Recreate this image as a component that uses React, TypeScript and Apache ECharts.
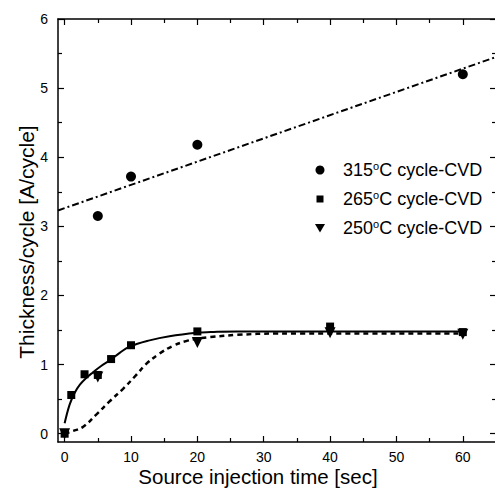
import React, { useEffect, useRef } from 'react';
import * as echarts from 'echarts';

// Axis ticks
const xMajorTicks = [0, 10, 20, 30, 40, 50, 60];
const xMinorTicks = [5, 15, 25, 35, 45, 55];
const yMajorTicks = [0, 1, 2, 3, 4, 5, 6];
const yMinorTicks = [0.5, 1.5, 2.5, 3.5, 4.5, 5.5];

// Measured points [time sec, thickness/cycle]
const points315 = [[5, 3.15], [10, 3.72], [20, 4.18], [60, 5.2]];
const points265 = [[0, 0], [1, 0.56], [3, 0.86], [5, 0.85], [7, 1.08], [10, 1.28], [20, 1.48], [40, 1.55], [60, 1.47]];
const points250 = [[0, 0], [5, 0.82], [20, 1.32], [40, 1.46], [60, 1.44]];

// Fitted curves
const fit315 = [[-1, 3.23], [65, 5.45]];
const fit265 = [[0, 0.15], [0.75, 0.42], [1.5, 0.59], [2.3, 0.71], [3.3, 0.81], [4.3, 0.89], [5.5, 0.98], [6.8, 1.06], [8.3, 1.17], [9.8, 1.26], [12.8, 1.35], [15.8, 1.41], [19.9, 1.46], [22, 1.47], [26, 1.48], [35, 1.48], [60, 1.48]];
const fit250 = [[0, 0], [1.3, 0.04], [2.8, 0.1], [4.8, 0.28], [6.8, 0.47], [8.8, 0.65], [10.8, 0.85], [12.3, 1.01], [14.3, 1.16], [16.3, 1.27], [18.3, 1.34], [20.4, 1.38], [22, 1.4], [26, 1.43], [32, 1.45], [60, 1.45]];

const legendNames = ['315oC cycle-CVD', '265oC cycle-CVD', '250oC cycle-CVD'];
const legendRich: Record<string, string> = {
  '315oC cycle-CVD': '{n|315}{s|o}{n|C cycle-CVD}',
  '265oC cycle-CVD': '{n|265}{s|o}{n|C cycle-CVD}',
  '250oC cycle-CVD': '{n|250}{s|o}{n|C cycle-CVD}',
};

const xTitle = 'Source injection time [sec]';
const yTitle = 'Thickness/cycle [A/cycle]';

const X_MIN = -1;
const X_MAX = 65;
const Y_MIN = -0.12;
const Y_MAX = 6;
const FONT = '"Liberation Sans", Arial, sans-serif';

function makeX(position: string, ticks: number[], len: number, gridIndex: number, withLabels: boolean, showLine: boolean) {
  return {
    type: 'value',
    gridIndex,
    position,
    min: X_MIN,
    max: X_MAX,
    axisLine: { show: showLine, onZero: false, lineStyle: { color: '#000', width: 1.5 } },
    axisTick: { show: true, inside: true, length: len, customValues: ticks, lineStyle: { color: '#000', width: 1.2 } },
    axisLabel: withLabels
      ? { show: true, customValues: ticks, margin: 8, color: '#000', fontSize: 14, fontFamily: FONT }
      : { show: false },
    splitLine: { show: false },
  };
}

function makeY(position: string, ticks: number[], len: number, gridIndex: number, withLabels: boolean, showLine: boolean) {
  return {
    type: 'value',
    gridIndex,
    position,
    min: Y_MIN,
    max: Y_MAX,
    axisLine: { show: showLine, onZero: false, lineStyle: { color: '#000', width: 1.5 } },
    axisTick: { show: true, inside: true, length: len, customValues: ticks, lineStyle: { color: '#000', width: 1.2 } },
    axisLabel: withLabels
      ? { show: true, customValues: ticks, margin: 10, color: '#000', fontSize: 14, fontFamily: FONT }
      : { show: false },
    splitLine: { show: false },
  };
}

export default function App() {
  const ref = useRef<HTMLDivElement>(null);

  useEffect(() => {
    if (!ref.current) return;
    const chart = echarts.init(ref.current, undefined, { renderer: 'svg' });
    const gridRect = { left: 58, top: 19, right: -1, bottom: 47, outerBoundsMode: 'none', containLabel: false };
    chart.setOption({
      animation: false,
      backgroundColor: '#fff',
      grid: [gridRect, gridRect],
      xAxis: [
        makeX('bottom', xMajorTicks, 6, 0, true, true),
        makeX('top', xMajorTicks, 6, 0, false, true),
        makeX('bottom', xMinorTicks, 4, 1, false, false),
        makeX('top', xMinorTicks, 4, 1, false, false),
      ],
      yAxis: [
        makeY('left', yMajorTicks, 6, 0, true, true),
        makeY('right', yMajorTicks, 6, 0, false, true),
        makeY('left', yMinorTicks, 4, 1, false, false),
        makeY('right', yMinorTicks, 4, 1, false, false),
      ],
      graphic: [
        {
          type: 'text',
          x: 258,
          y: 476,
          style: { text: xTitle, fontSize: 20.5, fontFamily: FONT, fill: '#000', align: 'center', verticalAlign: 'middle' },
        },
        {
          type: 'text',
          x: 26,
          y: 242,
          rotation: Math.PI / 2,
          style: { text: yTitle, fontSize: 21, fontFamily: FONT, fill: '#000', align: 'center', verticalAlign: 'middle' },
        },
      ],
      legend: {
        orient: 'vertical',
        left: 310,
        top: 155,
        itemWidth: 10,
        itemHeight: 10,
        itemGap: 9,
        data: [
          { name: legendNames[0], icon: 'path://M0,0L0,0M10,10L10,10M5,0.5A4.5,4.5,0,1,1,4.99,0.5Z' },
          { name: legendNames[1], icon: 'path://M0,0L0,0M10,10L10,10M1.5,1.5L8.5,1.5L8.5,8.5L1.5,8.5Z' },
          { name: legendNames[2], icon: 'path://M0,0L0,0M10,10L10,10M0,1L10,1L5,9.5Z' },
        ],
        formatter: (name: string) => legendRich[name] || name,
        itemStyle: { color: '#000', opacity: 1, borderWidth: 0 },
        textStyle: {
          color: '#000',
          fontFamily: FONT,
          fontSize: 18,
          lineHeight: 20,
          padding: [0, 0, 0, 13],
          rich: {
            n: { fontSize: 18, fontFamily: FONT, color: '#000', lineHeight: 20 },
            s: { fontSize: 11, fontFamily: FONT, color: '#000', verticalAlign: 'top', lineHeight: 20, padding: [0, 0, 8, 0] },
          },
        },
        selectedMode: false,
      },
      series: [
        {
          type: 'line',
          data: fit315,
          symbol: 'none',
          lineStyle: { color: '#000', width: 2, type: [7, 3, 2, 3] },
          z: 1,
        },
        {
          type: 'line',
          data: fit265,
          symbol: 'none',
          smooth: 0.4,
          lineStyle: { color: '#000', width: 2 },
          z: 1,
        },
        {
          type: 'line',
          data: fit250,
          symbol: 'none',
          smooth: 0.4,
          lineStyle: { color: '#000', width: 2.5, type: [5, 4] },
          z: 1,
        },
        {
          name: legendNames[0],
          type: 'scatter',
          data: points315,
          symbol: 'circle',
          symbolSize: 10,
          itemStyle: { color: '#000', opacity: 1 },
          z: 3,
        },
        {
          name: legendNames[1],
          type: 'scatter',
          data: points265,
          symbol: 'rect',
          symbolSize: 8,
          itemStyle: { color: '#000', opacity: 1 },
          z: 3,
        },
        {
          name: legendNames[2],
          type: 'scatter',
          data: points250,
          symbol: 'triangle',
          symbolRotate: 180,
          symbolSize: 11,
          itemStyle: { color: '#000', opacity: 1 },
          z: 3,
        },
      ],
    });
    return () => chart.dispose();
  }, []);

  return (
    <div
      ref={ref}
      style={{ position: 'fixed', left: 0, top: 0, width: 495, height: 489, background: '#fff' }}
    />
  );
}
